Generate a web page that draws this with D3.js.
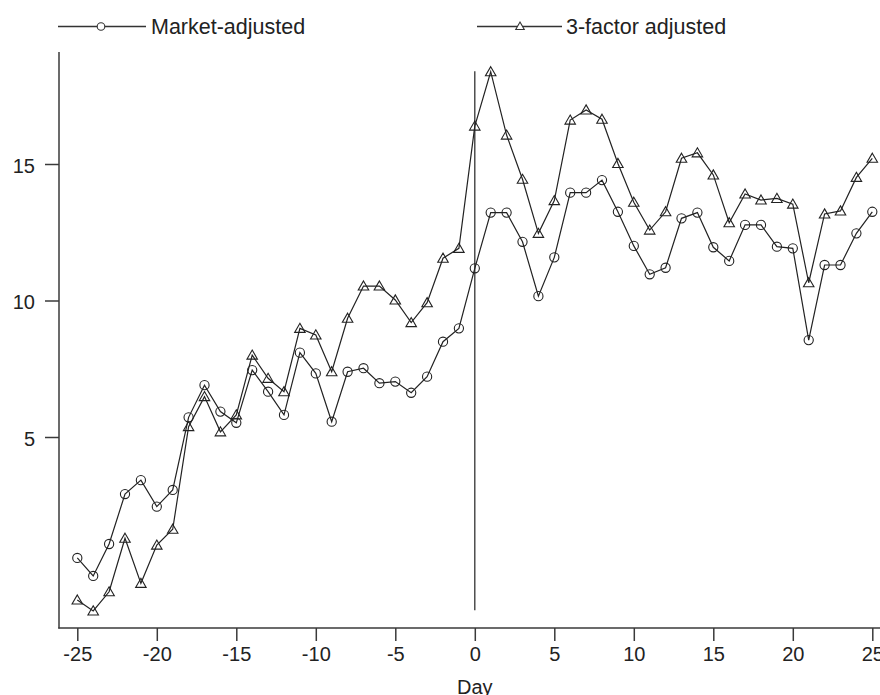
<!DOCTYPE html>
<html>
<head>
<meta charset="utf-8">
<script src="https://cdn.jsdelivr.net/npm/d3@7"></script>
<style>
  html, body { margin: 0; padding: 0; background: #fff; }
  svg { display: block; font-family: "Liberation Sans", Arial, Helvetica, sans-serif; }
</style>
</head>
<body>
<svg id="chart" width="880" height="695"></svg>
<script>
const days = d3.range(-25, 26);
const marketAdjusted = [
  0.57, -0.09, 1.08, 2.91, 3.42, 2.45, 3.06, 5.72, 6.90, 5.93,
  5.52, 7.45, 6.66, 5.81, 8.09, 7.33, 5.56, 7.39, 7.52, 6.97,
  7.03, 6.62, 7.21, 8.49, 8.98, 11.18, 13.22, 13.22, 12.15, 10.16,
  11.58, 13.95, 13.95, 14.41, 13.25, 12.00, 10.96, 11.20, 13.01, 13.22,
  11.95, 11.45, 12.77, 12.77, 11.97, 11.91, 8.55, 11.30, 11.30, 12.46,
  13.25
];
const threeFactor = [
  -0.97, -1.37, -0.67, 1.29, -0.36, 1.04, 1.62, 5.38, 6.48, 5.19,
  5.81, 8.00, 7.15, 6.66, 8.98, 8.74, 7.39, 9.35, 10.53, 10.53,
  10.02, 9.19, 9.92, 11.55, 11.91, 16.39, 18.38, 16.06, 14.44, 12.46,
  13.66, 16.61, 16.98, 16.64, 15.02, 13.60, 12.58, 13.25, 15.21, 15.41,
  14.60, 12.85, 13.90, 13.68, 13.74, 13.53, 10.65, 13.17, 13.28, 14.51,
  15.21
];
const seriesNames = ["Market-adjusted", "3-factor adjusted"];
const xTicks = [-25, -20, -15, -10, -5, 0, 5, 10, 15, 20, 25];
const yTicks = [5, 10, 15];
const xLabel = "Day";
const eventLine = [-1.35, 18.4];

const svg = d3.select("#chart");
const x = d3.scaleLinear().domain([-25, 25]).range([77.3, 872.3]);
const y = d3.scaleLinear().domain([5, 15]).range([437, 164]);

const axisColor = "#3a3a3a";

// axes lines (L-shaped box)
svg.append("line").attr("x1", 59).attr("x2", 59).attr("y1", 52).attr("y2", 628.5)
  .attr("stroke", axisColor).attr("stroke-width", 1.5);
svg.append("line").attr("x1", 58.25).attr("x2", 880).attr("y1", 628).attr("y2", 628)
  .attr("stroke", axisColor).attr("stroke-width", 1.5);

// y axis
const gy = svg.append("g").attr("transform", "translate(59,0)")
  .call(d3.axisLeft(y).tickValues(yTicks).tickSize(14).tickPadding(10).tickFormat(d3.format("d")));
gy.select(".domain").remove();
gy.selectAll(".tick line").attr("stroke", axisColor).attr("stroke-width", 1.5);
gy.selectAll(".tick text").attr("font-size", 20).attr("fill", "#222")
  .attr("font-family", "Liberation Sans, Arial, sans-serif").attr("dy", "0.42em");

// x axis
const gx = svg.append("g").attr("transform", "translate(0,628)")
  .call(d3.axisBottom(x).tickValues(xTicks).tickSize(13).tickPadding(6).tickFormat(d3.format("d")));
gx.select(".domain").remove();
gx.selectAll(".tick line").attr("stroke", axisColor).attr("stroke-width", 1.5);
gx.selectAll(".tick text").attr("font-size", 20).attr("fill", "#222")
  .attr("font-family", "Liberation Sans, Arial, sans-serif")
  .text(d => d < 0 ? "-" + Math.abs(d) : String(d));

svg.append("text").attr("x", x(0)).attr("y", 694).attr("text-anchor", "middle")
  .attr("font-size", 20).attr("fill", "#222").text(xLabel);

// event line at day 0
svg.append("line").attr("x1", x(0)).attr("x2", x(0))
  .attr("y1", y(eventLine[1])).attr("y2", y(eventLine[0]))
  .attr("stroke", "#333").attr("stroke-width", 1.3);

const line = d3.line().x((d, i) => x(days[i])).y(d => y(d));

function triPath(cx, cy, s) {
  const h = s * Math.sqrt(3) / 2;
  return `M${cx},${cy - h * 2 / 3}L${cx + s / 2},${cy + h / 3}L${cx - s / 2},${cy + h / 3}Z`;
}

// Market adjusted
svg.append("path").datum(marketAdjusted).attr("d", line)
  .attr("fill", "none").attr("stroke", "#222").attr("stroke-width", 1.2);
svg.append("g").selectAll("circle").data(marketAdjusted).join("circle")
  .attr("cx", (d, i) => x(days[i])).attr("cy", d => y(d)).attr("r", 4.6)
  .attr("fill", "none").attr("stroke", "#222").attr("stroke-width", 1.1);

// 3-factor
svg.append("path").datum(threeFactor).attr("d", line)
  .attr("fill", "none").attr("stroke", "#222").attr("stroke-width", 1.2);
svg.append("g").selectAll("path").data(threeFactor).join("path")
  .attr("d", (d, i) => triPath(x(days[i]), y(d) + 1, 10.5))
  .attr("fill", "none").attr("stroke", "#222").attr("stroke-width", 1.1);

// legend
const lg = svg.append("g");
lg.append("line").attr("x1", 58).attr("x2", 146).attr("y1", 26.5).attr("y2", 26.5)
  .attr("stroke", "#333").attr("stroke-width", 1.3);
lg.append("circle").attr("cx", 101).attr("cy", 26.5).attr("r", 3.8)
  .attr("fill", "#fff").attr("stroke", "#333").attr("stroke-width", 1.1);
lg.append("text").attr("x", 151).attr("y", 33.5).attr("font-size", 21.5).attr("fill", "#222")
  .text(seriesNames[0]);

lg.append("line").attr("x1", 477).attr("x2", 562).attr("y1", 26.5).attr("y2", 26.5)
  .attr("stroke", "#333").attr("stroke-width", 1.3);
lg.append("path").attr("d", triPath(520, 27, 8.5))
  .attr("fill", "#fff").attr("stroke", "#333").attr("stroke-width", 1.1);
lg.append("text").attr("x", 566).attr("y", 33.5).attr("font-size", 21.5).attr("fill", "#222")
  .text(seriesNames[1]);
</script>
</body>
</html>
